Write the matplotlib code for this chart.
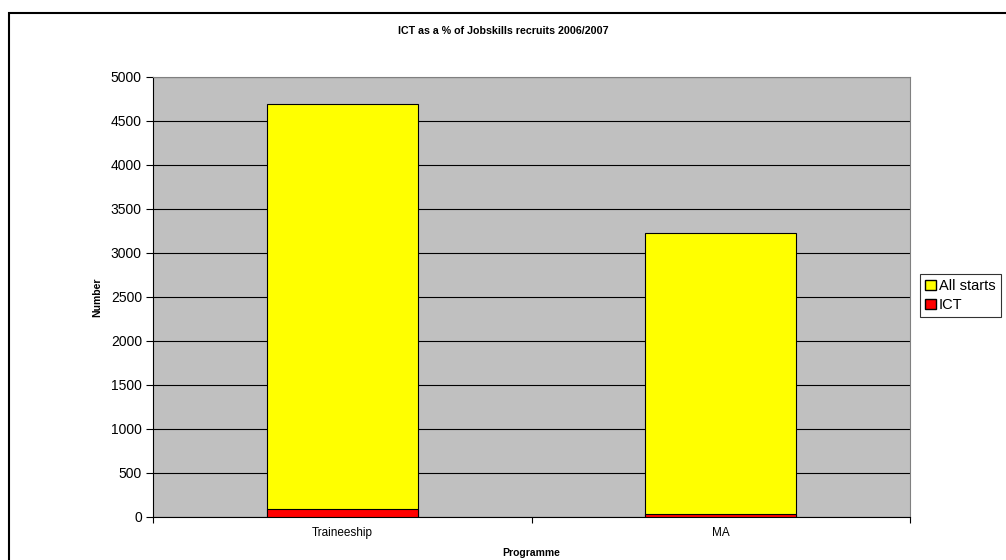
import matplotlib.pyplot as plt
import numpy as np
from matplotlib.patches import Rectangle, Patch

plt.rcParams['font.family'] = ['Liberation Sans', 'DejaVu Sans']

programmes = ['Traineeship', 'MA']
all_starts = [4690, 3230]
ict = [95, 30]

fig = plt.figure(figsize=(10.06, 5.6), dpi=100)
# chart border (runs off the bottom and right of the canvas)
fig.patches.append(Rectangle((9 / 1006, -0.1), 1.2, 1 - 13 / 560 + 0.1,
                             transform=fig.transFigure, fill=False,
                             edgecolor='black', linewidth=1.5, zorder=0))

ax = fig.add_axes([153 / 1006, 1 - 517 / 560, (910 - 153) / 1006, 440 / 560])
ax.set_facecolor('#C0C0C0')

x = np.arange(len(programmes))
ax.bar(x, all_starts, width=0.4, color='#FFFF00', edgecolor='black',
       linewidth=0.8, zorder=3, label='All starts')
ax.bar(x, ict, width=0.4, color='#FF0000', edgecolor='black',
       linewidth=0.8, zorder=4, label='ICT')

ax.set_xlim(-0.5, 1.5)
ax.set_ylim(0, 5000)
ax.set_yticks(np.arange(0, 5001, 500))
ax.set_xticks([-0.5, 0.5, 1.5])
ax.set_xticklabels([])
ax.set_xticks(x, minor=True)
ax.set_xticklabels(programmes, minor=True, fontsize=8.5)
ax.tick_params(axis='x', which='minor', length=0, pad=7)
ax.tick_params(axis='x', which='major', direction='out', length=4, width=0.8)
ax.tick_params(axis='y', direction='out', length=5, width=0.8, labelsize=10, pad=3)
ax.yaxis.grid(True, color='black', linewidth=0.8, zorder=1)
ax.set_axisbelow(True)

for side in ['top', 'right']:
    ax.spines[side].set_color('#808080')
ax.spines['left'].set_color('black')
ax.spines['bottom'].set_color('black')

ax.set_ylabel('Number', fontsize=7.5, fontweight='bold', labelpad=6)
ax.set_xlabel('Programme', fontsize=7.5, fontweight='bold', labelpad=7)
fig.text(0.5, 1 - 31 / 560, 'ICT as a % of Jobskills recruits 2006/2007',
         ha='center', va='center', fontsize=7.7, fontweight='bold')

handles = [Patch(facecolor='#FFFF00', edgecolor='black', label='All starts'),
           Patch(facecolor='#FF0000', edgecolor='black', label='ICT')]
leg = fig.legend(handles=handles, loc='upper left',
                 bbox_to_anchor=(920 / 1006, 1 - 274 / 560), fontsize=10.5,
                 frameon=True, fancybox=False, edgecolor='black',
                 handlelength=0.75, handleheight=0.75, handletextpad=0.2,
                 borderpad=0.35, labelspacing=0.35, borderaxespad=0)
leg.get_frame().set_linewidth(0.8)

fig.savefig('out.png', dpi=100)
